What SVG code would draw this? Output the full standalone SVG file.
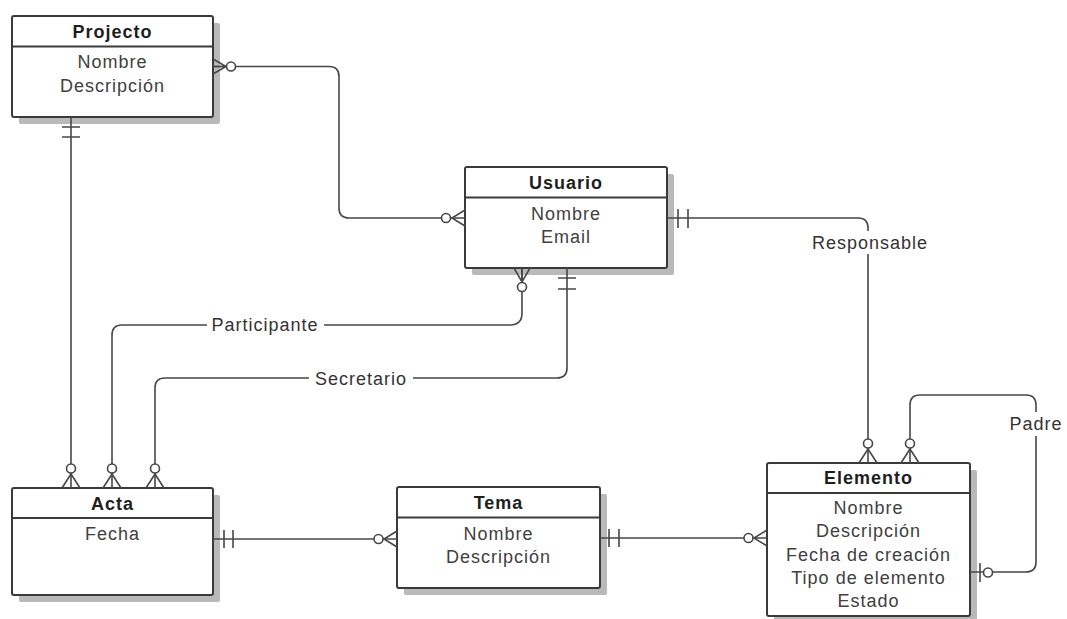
<svg xmlns="http://www.w3.org/2000/svg" width="1067" height="619" viewBox="0 0 1067 619">
  <style>
    .shadow { fill: #b9b9b9; }
    .box { fill: #ffffff; stroke: #3a3a3a; stroke-width: 2; }
    .div { stroke: #3a3a3a; stroke-width: 2; }
    .title { font-family: "Liberation Sans", Arial, sans-serif; font-size: 18px; font-weight: bold; fill: #1e1e1e; text-anchor: middle; letter-spacing: 1px; }
    .attr { font-family: "Liberation Sans", Arial, sans-serif; font-size: 18px; fill: #404040; text-anchor: middle; letter-spacing: 1px; }
    .lbl { font-family: "Liberation Sans", Arial, sans-serif; font-size: 18px; fill: #333333; text-anchor: middle; letter-spacing: 1px; }
    .line { fill: none; stroke: #474747; stroke-width: 1.6; }
    .circ { fill: #ffffff; stroke: #474747; stroke-width: 1.6; }
    .bg { fill: #ffffff; }
  </style>

  <!-- Entities -->
  <g id="projecto">
    <rect class="shadow" x="19" y="23" width="201" height="101" rx="2"/>
    <rect class="box" x="12" y="16" width="201" height="101" rx="2"/>
    <line class="div" x1="12" y1="46.5" x2="213" y2="46.5"/>
    <text class="title" x="112.5" y="38">Projecto</text>
    <text class="attr" x="112.5" y="68">Nombre</text>
    <text class="attr" x="112.5" y="92">Descripción</text>
  </g>

  <g id="usuario">
    <rect class="shadow" x="472" y="174" width="202" height="101" rx="2"/>
    <rect class="box" x="465" y="167" width="202" height="101" rx="2"/>
    <line class="div" x1="465" y1="197.5" x2="667" y2="197.5"/>
    <text class="title" x="566" y="189">Usuario</text>
    <text class="attr" x="566" y="220">Nombre</text>
    <text class="attr" x="566" y="243">Email</text>
  </g>

  <g id="acta">
    <rect class="shadow" x="19" y="495" width="201" height="107" rx="2"/>
    <rect class="box" x="12" y="488" width="201" height="107" rx="2"/>
    <line class="div" x1="12" y1="518" x2="213" y2="518"/>
    <text class="title" x="112.5" y="510">Acta</text>
    <text class="attr" x="112.5" y="540">Fecha</text>
  </g>

  <g id="tema">
    <rect class="shadow" x="404" y="494" width="203" height="101" rx="2"/>
    <rect class="box" x="397" y="487" width="203" height="101" rx="2"/>
    <line class="div" x1="397" y1="517.5" x2="600" y2="517.5"/>
    <text class="title" x="498.5" y="509">Tema</text>
    <text class="attr" x="498.5" y="540">Nombre</text>
    <text class="attr" x="498.5" y="563">Descripción</text>
  </g>

  <g id="elemento">
    <rect class="shadow" x="774" y="470" width="203" height="160" rx="2"/>
    <rect class="box" x="767" y="463" width="203" height="153" rx="2"/>
    <line class="div" x1="767" y1="493" x2="970" y2="493"/>
    <text class="title" x="868.5" y="484">Elemento</text>
    <text class="attr" x="868.5" y="514">Nombre</text>
    <text class="attr" x="868.5" y="537">Descripción</text>
    <text class="attr" x="868.5" y="561">Fecha de creación</text>
    <text class="attr" x="868.5" y="584">Tipo de elemento</text>
    <text class="attr" x="868.5" y="607">Estado</text>
  </g>

  <!-- Relationships -->
  <g id="connectors">
    <!-- Projecto — Usuario (many to many) -->
    <path class="line" d="M213,66.5 H329 Q339,66.5 339,76.5 V208 Q339,218 349,218 H465"/>
    <path class="line" d="M213,59 L226,66.5 L213,74 M213,66.5 H226"/>
    <circle class="circ" cx="231" cy="66.5" r="4.5"/>
    <path class="line" d="M465,210 L452,218 L465,226"/>
    <circle class="circ" cx="446" cy="218" r="4.5"/>

    <!-- Projecto — Acta -->
    <path class="line" d="M71,117 V488"/>
    <path class="line" d="M62,127 H80 M62,137 H80"/>
    <path class="line" d="M62,488 L71,474 L80,488"/>
    <circle class="circ" cx="71" cy="468.5" r="4.5"/>

    <!-- Usuario — Elemento (Responsable) -->
    <path class="line" d="M667,218 H858 Q868,218 868,228 V463"/>
    <path class="line" d="M678,209 V228 M688,209 V228"/>
    <path class="line" d="M859,463 L868,449 L877,463"/>
    <circle class="circ" cx="868" cy="443.5" r="4.5"/>
    <rect class="bg" x="804" y="231" width="132" height="23"/>
    <text class="lbl" x="870" y="249">Responsable</text>

    <!-- Usuario — Acta (Participante) -->
    <path class="line" d="M522,268 V313 Q522,325 510,325 H122 Q112,325 112,335 V488"/>
    <path class="line" d="M514,268 L522,282 L530,268 M522,268 V282"/>
    <circle class="circ" cx="522" cy="287" r="4.5"/>
    <path class="line" d="M103,488 L112,474 L121,488"/>
    <circle class="circ" cx="112" cy="468.5" r="4.5"/>
    <rect class="bg" x="207" y="314" width="117" height="22"/>
    <text class="lbl" x="265" y="331">Participante</text>

    <!-- Usuario — Acta (Secretario) -->
    <path class="line" d="M567,268 V368 Q567,378 557,378 H165 Q155,378 155,388 V488"/>
    <path class="line" d="M558,278 H576 M558,289 H576"/>
    <path class="line" d="M146,488 L155,474 L164,488"/>
    <circle class="circ" cx="155" cy="468.5" r="4.5"/>
    <rect class="bg" x="309" y="367" width="104" height="22"/>
    <text class="lbl" x="361" y="385">Secretario</text>

    <!-- Acta — Tema -->
    <path class="line" d="M213,539 H397"/>
    <path class="line" d="M224,530 V548 M233,530 V548"/>
    <path class="line" d="M397,531 L384,539 L397,547"/>
    <circle class="circ" cx="378.5" cy="539" r="4.5"/>

    <!-- Tema — Elemento -->
    <path class="line" d="M600,538 H767"/>
    <path class="line" d="M609,529 V547 M619,529 V547"/>
    <path class="line" d="M767,530 L754,538 L767,546"/>
    <circle class="circ" cx="748.5" cy="538" r="4.5"/>

    <!-- Elemento — Elemento (Padre) -->
    <path class="line" d="M910,463 V405 Q910,395 920,395 H1026 Q1036,395 1036,405 V562 Q1036,572 1026,572 H970"/>
    <path class="line" d="M901,463 L910,449 L919,463"/>
    <circle class="circ" cx="910" cy="443.5" r="4.5"/>
    <path class="line" d="M980,563 V582"/>
    <circle class="circ" cx="988" cy="572.5" r="4.5"/>
    <rect class="bg" x="1008" y="412" width="58" height="24"/>
    <text class="lbl" x="1036" y="430">Padre</text>
  </g>
</svg>
